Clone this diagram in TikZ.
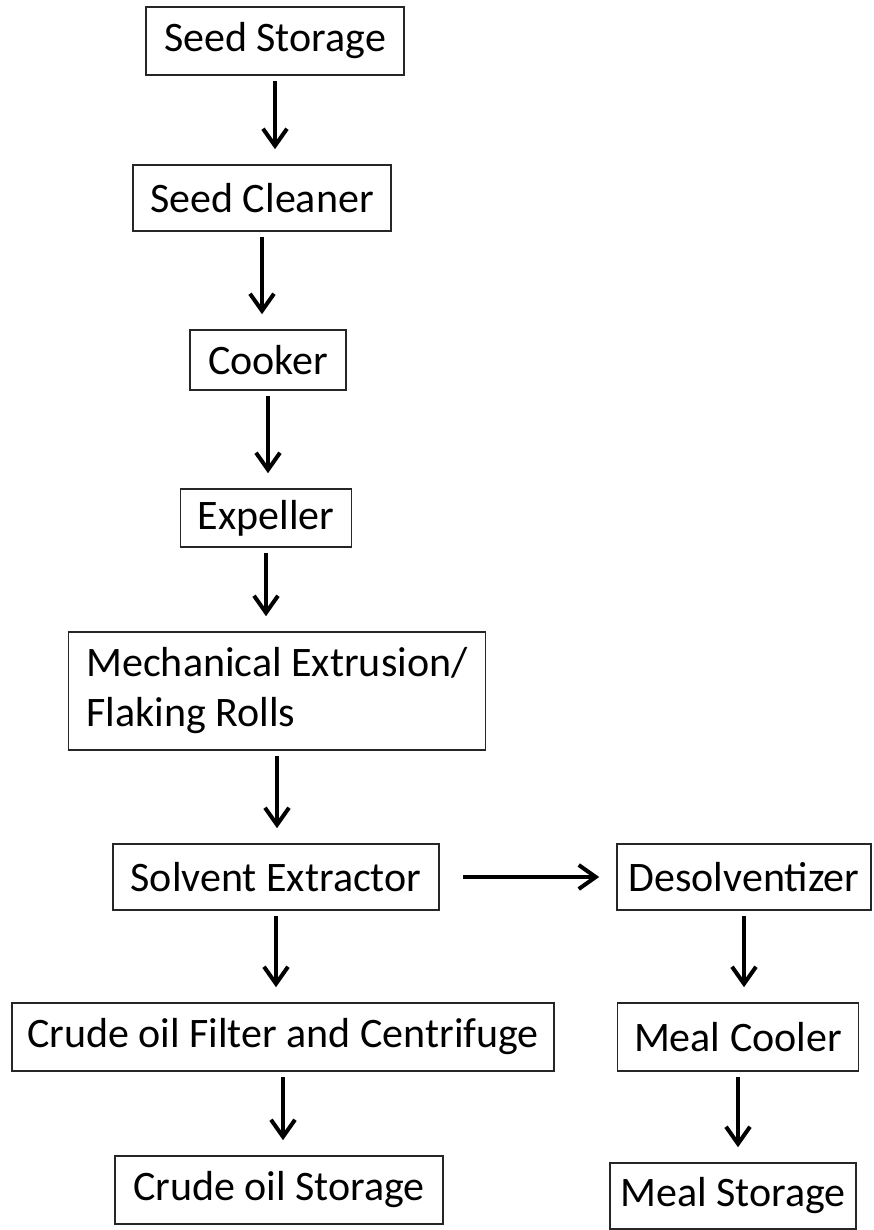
\documentclass[tikz,border=0pt]{standalone}
\usepackage{fontspec}
\setmainfont{Carlito}
\usetikzlibrary{arrows.meta,positioning}
\tikzset{
  stepbox/.style={draw=black!85,line width=1.6pt,inner sep=0pt,font=\fontsize{42}{50}\selectfont},
  flow/.style={line width=4pt,-{Straight Barb[length=17pt,width=24pt,line width=4pt]},shorten <=5pt,shorten >=15pt}
}
\begin{document}
\begin{tikzpicture}[x=1pt,y=-1pt]
  \useasboundingbox (0,0) rectangle (873,1230);
  % main line
  \node[stepbox,minimum width=258pt,minimum height=68pt] (store) at (275,41) {Seed Storage};
  \node[stepbox,minimum width=258pt,minimum height=66pt] (clean) at (262,198) {Seed Cleaner};
  \node[stepbox,minimum width=156pt,minimum height=60pt] (cook) at (268,360) {Cooker};
  \node[stepbox,minimum width=171pt,minimum height=58pt] (expel) at (266,518) {Expeller};
  \node[stepbox,minimum width=417pt,minimum height=118pt,align=left] (mech) at (277,691) {Mechanical Extrusion/\\Flaking Rolls};
  \node[stepbox,minimum width=326pt,minimum height=66pt] (solv) at (276,877) {Solvent Extractor};
  \node[stepbox,minimum width=542pt,minimum height=68pt] (filter) at (283,1037) {Crude oil Filter and Centrifuge};
  \node[stepbox,minimum width=328pt,minimum height=68pt] (crude) at (279,1190) {Crude oil Storage};
  % meal line
  \node[stepbox,minimum width=254pt,minimum height=66pt] (desolv) at (744,877) {Desolventizer};
  \node[stepbox,minimum width=241pt,minimum height=68pt] (cooler) at (738,1037) {Meal Cooler};
  \node[stepbox,minimum width=246pt,minimum height=66pt] (mealst) at (733,1196) {Meal Storage};
  % arrows
  \draw[flow] (store.south) -- (store.south |- clean.north);
  \draw[flow] (clean.south) -- (clean.south |- cook.north);
  \draw[flow] (cook.south) -- (cook.south |- expel.north);
  \draw[flow] (expel.south) -- (expel.south |- mech.north);
  \draw[flow] (mech.south) -- (mech.south |- solv.north);
  \draw[flow] (solv.south) -- (solv.south |- filter.north);
  \draw[flow] (filter.south) -- (filter.south |- crude.north);
  \draw[flow,shorten <=23pt,shorten >=17pt] (solv.east) -- (desolv.west);
  \draw[flow] (desolv.south) -- (desolv.south |- cooler.north);
  \draw[flow] (cooler.south) -- (cooler.south |- mealst.north);
\end{tikzpicture}
\end{document}
